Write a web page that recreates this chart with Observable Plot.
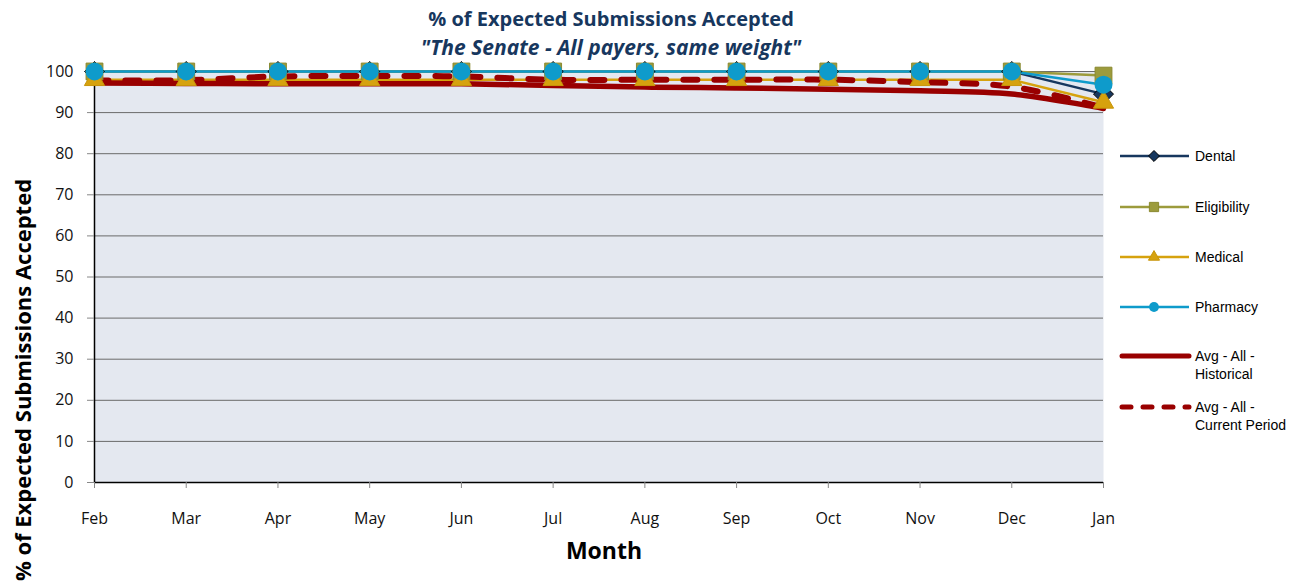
<!DOCTYPE html>
<html><head><meta charset="utf-8">
<script src="https://cdn.jsdelivr.net/npm/d3@7"></script>
<script src="https://cdn.jsdelivr.net/npm/@observablehq/plot@0.6"></script>
<style>
body{margin:0;background:#fff;}
#wrap{position:relative;width:1316px;height:588px;overflow:hidden;font-family:"Open Sans",sans-serif;}
#wrap svg.plot{position:absolute;left:0;top:0;}
.t{position:absolute;white-space:nowrap;color:#17375E;font-weight:bold;font-size:20px;transform:translate(-50%,-50%);}
.ax{position:absolute;white-space:nowrap;color:#000;font-weight:bold;transform:translate(-50%,-50%);}
.lg{position:absolute;left:1119px;font-family:"Liberation Sans",Arial,sans-serif;font-size:14px;color:#000;}
.lg svg{position:absolute;left:0;top:0;}
.lg span{position:absolute;left:76px;top:-9px;line-height:18px;white-space:nowrap;}
</style></head><body><div id="wrap"></div>
<script>
const months = ["Feb","Mar","Apr","May","Jun","Jul","Aug","Sep","Oct","Nov","Dec","Jan"];
const dental = [100,100,100,100,100,100,100,100,100,100,100,94.5];
const eligibility = [100,100,100,100,100,100,100,100,100,100,100,99];
const medical = [98,98,98,98,98,98,98,98,98,98,98,92.5];
const pharmacy = [100,100,100,100,100,100,100,100,100,100,100,96.8];
const avgHistorical = [97.2,97.1,97,97,97,96.6,96.2,96,95.7,95.3,94.5,91];
const avgCurrent = [97.8,97.9,98.8,98.9,98.8,98,98,98,98,97.4,96.3,91.2];
const yTicks = [0,10,20,30,40,50,60,70,80,90,100];
const seriesNames = ["Dental","Eligibility","Medical","Pharmacy"];

const seriesStyle = {
  Dental:{color:"#17375E", symbol:"diamond2", r:9, mstroke:"#000"},
  Eligibility:{color:"#9C9B3C", symbol:"square", r:9.5, mstroke:"#8a892f"},
  Medical:{color:"#D6A20E", symbol:"triangle", r:7.5, mstroke:"#c8950a"},
  Pharmacy:{color:"#0E9BCB", symbol:"circle", r:9, mstroke:"none"}
};
const seriesVals = {Dental:dental, Eligibility:eligibility, Medical:medical, Pharmacy:pharmacy};
const rows = n => months.map((m,i)=>({month:m, value:seriesVals[n][i]}));
const hist = months.map((m,i)=>({month:m, value:avgHistorical[i]}));
const curr = months.map((m,i)=>({month:m, value:avgCurrent[i]}));

const marks = [
  Plot.frame({fill:"#E4E8F0", stroke:null}),
  Plot.ruleY(yTicks.slice(1), {stroke:"#6a6a6a", strokeWidth:1}),
  Plot.ruleY([0], {stroke:"#000", strokeWidth:1.5}),
  Plot.ruleX([months[0]], {stroke:"#000", strokeWidth:1.5}),
  Plot.axisY({ticks:yTicks, tickSize:7, tickPadding:14, fontSize:16, stroke:"#888", label:null, fill:"#111"}),
  Plot.axisX({tickSize:6, tickPadding:24, fontSize:16, stroke:"#888", label:null, fill:"#111"})
];
for (const n of seriesNames) {
  const s = seriesStyle[n];
  marks.push(Plot.line(rows(n), {x:"month", y:"value", stroke:s.color, strokeWidth:2.5}));
}
marks.push(Plot.line(hist, {x:"month", y:"value", stroke:"#990000", strokeWidth:5.5, curve:"catmull-rom", strokeLinecap:"round"}));
marks.push(Plot.line(curr, {x:"month", y:"value", stroke:"#990000", strokeWidth:6, curve:"catmull-rom", strokeDasharray:"14,17", strokeLinecap:"round"}));
for (const n of seriesNames) {
  const s = seriesStyle[n];
  marks.push(Plot.dot(rows(n), {x:"month", y:"value", symbol:()=>s.symbol, r:s.r, fill:s.color, stroke:s.mstroke, strokeWidth:1}));
}

const chart = Plot.plot({
  width:1316, height:588,
  marginTop:71, marginBottom:106, marginLeft:94, marginRight:213,
  style:{fontFamily:"'Open Sans', sans-serif", background:"transparent"},
  x:{type:"point", domain:months, padding:0, round:false, axis:null},
  y:{domain:[0,100], axis:null},
  symbol:{type:"identity"},
  marks
});
chart.classList.add("plot");
const wrap = document.getElementById("wrap");
wrap.appendChild(chart);

function addDiv(cls, text, x, y, extra){
  const d = document.createElement("div");
  d.className = cls; d.textContent = text;
  d.style.left = x+"px"; d.style.top = y+"px";
  if (extra) Object.assign(d.style, extra);
  wrap.appendChild(d);
}
addDiv("t", "% of Expected Submissions Accepted", 611, 18);
addDiv("t", "\"The Senate - All payers, same weight\"", 611, 47, {fontStyle:"italic", fontSize:"21px"});
addDiv("ax", "Month", 604, 550, {fontSize:"23px"});
addDiv("ax", "% of Expected Submissions Accepted", 22, 380, {fontSize:"22px", transform:"translate(-50%,-50%) rotate(-90deg)"});

// legend
const legendItems = [
  {label:"Dental", y:156, kind:"Dental"},
  {label:"Eligibility", y:207, kind:"Eligibility"},
  {label:"Medical", y:257, kind:"Medical"},
  {label:"Pharmacy", y:307, kind:"Pharmacy"},
  {label:"Avg - All -\nHistorical", y:356, kind:"hist"},
  {label:"Avg - All -\nCurrent Period", y:407, kind:"curr"}
];
const NS = "http://www.w3.org/2000/svg";
for (const it of legendItems) {
  const g = document.createElement("div");
  g.className = "lg"; g.style.top = it.y+"px";
  const sv = document.createElementNS(NS,"svg");
  sv.setAttribute("width","74"); sv.setAttribute("height","20");
  sv.style.top = "-10px";
  const ln = document.createElementNS(NS,"line");
  ln.setAttribute("x1", it.kind==="hist"||it.kind==="curr" ? 3 : 1);
  ln.setAttribute("x2", 70); ln.setAttribute("y1",10); ln.setAttribute("y2",10);
  if (it.kind==="hist") { ln.setAttribute("stroke","#990000"); ln.setAttribute("stroke-width","5"); ln.setAttribute("stroke-linecap","round"); }
  else if (it.kind==="curr") { ln.setAttribute("stroke","#990000"); ln.setAttribute("stroke-width","5"); ln.setAttribute("stroke-linecap","round"); ln.setAttribute("stroke-dasharray","9,12"); }
  else { ln.setAttribute("stroke", seriesStyle[it.kind].color); ln.setAttribute("stroke-width","2.5"); }
  sv.appendChild(ln);
  if (seriesStyle[it.kind]) {
    const s = seriesStyle[it.kind];
    const p = document.createElementNS(NS,"path");
    const symMap = {diamond2:d3.symbolDiamond2, square:d3.symbolSquare, triangle:d3.symbolTriangle, circle:d3.symbolCircle};
    const rr = s.r*0.55;
    p.setAttribute("d", d3.symbol(symMap[s.symbol], Math.PI*rr*rr)());
    p.setAttribute("transform","translate(35,10)");
    p.setAttribute("fill", s.color);
    p.setAttribute("stroke", s.mstroke); p.setAttribute("stroke-width","1");
    sv.appendChild(p);
  }
  g.appendChild(sv);
  const sp = document.createElement("span");
  sp.innerHTML = it.label.replace("\n","<br>");
  g.appendChild(sp);
  wrap.appendChild(g);
}
</script>
</body></html>
